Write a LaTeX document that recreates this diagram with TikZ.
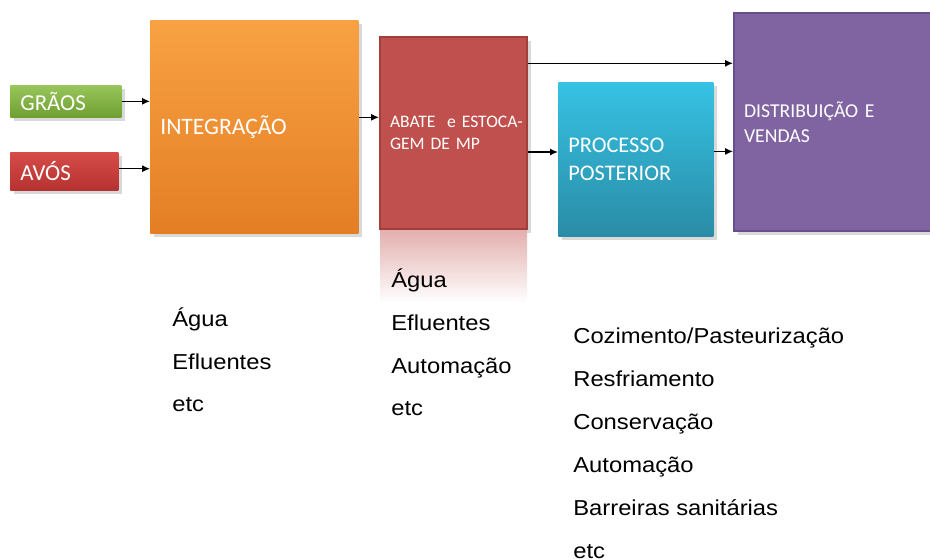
\documentclass[tikz,border=0pt]{standalone}
\usepackage{fontspec}
\setmainfont{Liberation Sans}
\newfontfamily\carlito{Carlito}
\newfontfamily\listfont[FakeStretch=1.1]{Liberation Sans}
\usetikzlibrary{positioning,arrows.meta,shadows}

\definecolor{graostop}{HTML}{98C65A}
\definecolor{graosbot}{HTML}{6F9E33}
\definecolor{avostop}{HTML}{D64C49}
\definecolor{avosbot}{HTML}{B53230}
\definecolor{integtop}{HTML}{F8A243}
\definecolor{integbot}{HTML}{E47E24}
\definecolor{abatefill}{HTML}{C0504D}
\definecolor{abateline}{HTML}{A03F3C}
\definecolor{proctop}{HTML}{36C2E4}
\definecolor{procbot}{HTML}{2A8CA6}
\definecolor{distfill}{HTML}{8064A2}
\definecolor{distline}{HTML}{684F8A}

\begin{document}
\begin{tikzpicture}[x=0.02cm, y=-0.02cm,
    etapa/.style={anchor=north west, align=left, inner xsep=0.2cm, inner ysep=1pt,
        text=white, drop shadow={opacity=0.3, shadow xshift=2pt, shadow yshift=-2pt}},
    seta/.style={-{Latex[length=4.5pt,width=4pt]}, line width=0.75pt},
    lista/.style={anchor=base west, align=left, inner sep=0pt,
        font=\listfont\fontsize{12.3}{24.4}\selectfont}]
\useasboundingbox (0,0) rectangle (930,560);

% etapas
\node[etapa, top color=graostop, bottom color=graosbot, minimum width=2.22cm,
    minimum height=0.64cm, text width=1.82cm, font=\carlito\fontsize{13}{15}\selectfont]
    (graos) at (10,85) {GRÃOS};
\node[etapa, top color=avostop, bottom color=avosbot, minimum width=2.16cm,
    minimum height=0.76cm, text width=1.76cm, font=\carlito\fontsize{13}{15}\selectfont]
    (avos) at (10,152) {AVÓS};
\node[etapa, top color=integtop, bottom color=integbot, minimum width=4.16cm,
    minimum height=4.26cm, text width=3.76cm, font=\carlito\fontsize{13.4}{15}\selectfont]
    (integ) at (150,20) {INTEGRAÇÃO};
\node[etapa, fill=abatefill, draw=abateline, line width=1.2pt, minimum width=2.94cm,
    minimum height=3.84cm, text width=2.54cm, font=\carlito\fontsize{10}{12.5}\selectfont]
    (abate) at (379,36) {\mbox{ABATE\ \ e ESTOCA-}\\GEM DE MP};
\node[etapa, top color=proctop, bottom color=procbot, minimum width=3.1cm,
    minimum height=3.08cm, text width=2.7cm, font=\carlito\fontsize{12.7}{15.8}\selectfont]
    (proc) at (558,82) {PROCESSO\\POSTERIOR};
\node[etapa, fill=distfill, draw=distline, line width=1.2pt, minimum width=4.1cm,
    minimum height=4.36cm, text width=3.7cm, font=\carlito\fontsize{11.2}{14.2}\selectfont]
    (dist) at (733,12) {DISTRIBUIÇÃO E\\VENDAS};

% reflexo
\node[below=0pt of abate, minimum width=2.94cm, minimum height=1.45cm, inner sep=0pt,
    top color=abatefill!45, bottom color=white] (refl) {};

% fluxo
\draw[seta] (graos.east) -- (graos.east -| integ.west);
\draw[seta] ([yshift=1.5pt]avos.east) -- ([yshift=1.5pt]avos.east -| integ.west);
\coordinate (i1) at ([yshift=5.4pt]integ.east);
\draw[seta] (i1) -- (i1 -| abate.west);
\coordinate (a1) at ([yshift=39.7pt]abate.east);
\draw[seta] (a1) -- (a1 -| dist.west);
\coordinate (a2) at ([yshift=-10.8pt]abate.east);
\draw[seta] (a2) -- (a2 -| proc.west);
\coordinate (p1) at ([yshift=4.5pt]proc.east);
\draw[seta] (p1) -- (p1 -| dist.west);

% listas (base = ultima linha)
\node[lista] (integlista) at (172,412) {Água\\Efluentes\\etc};
\node[lista] (abatelista) at (391,416) {Água\\Efluentes\\Automação\\etc};
\node[lista] (proclista) at (573,558)
    {Cozimento/Pasteurização\\Resfriamento\\Conservação\\Automação\\Barreiras sanitárias\\etc};
\end{tikzpicture}
\end{document}
